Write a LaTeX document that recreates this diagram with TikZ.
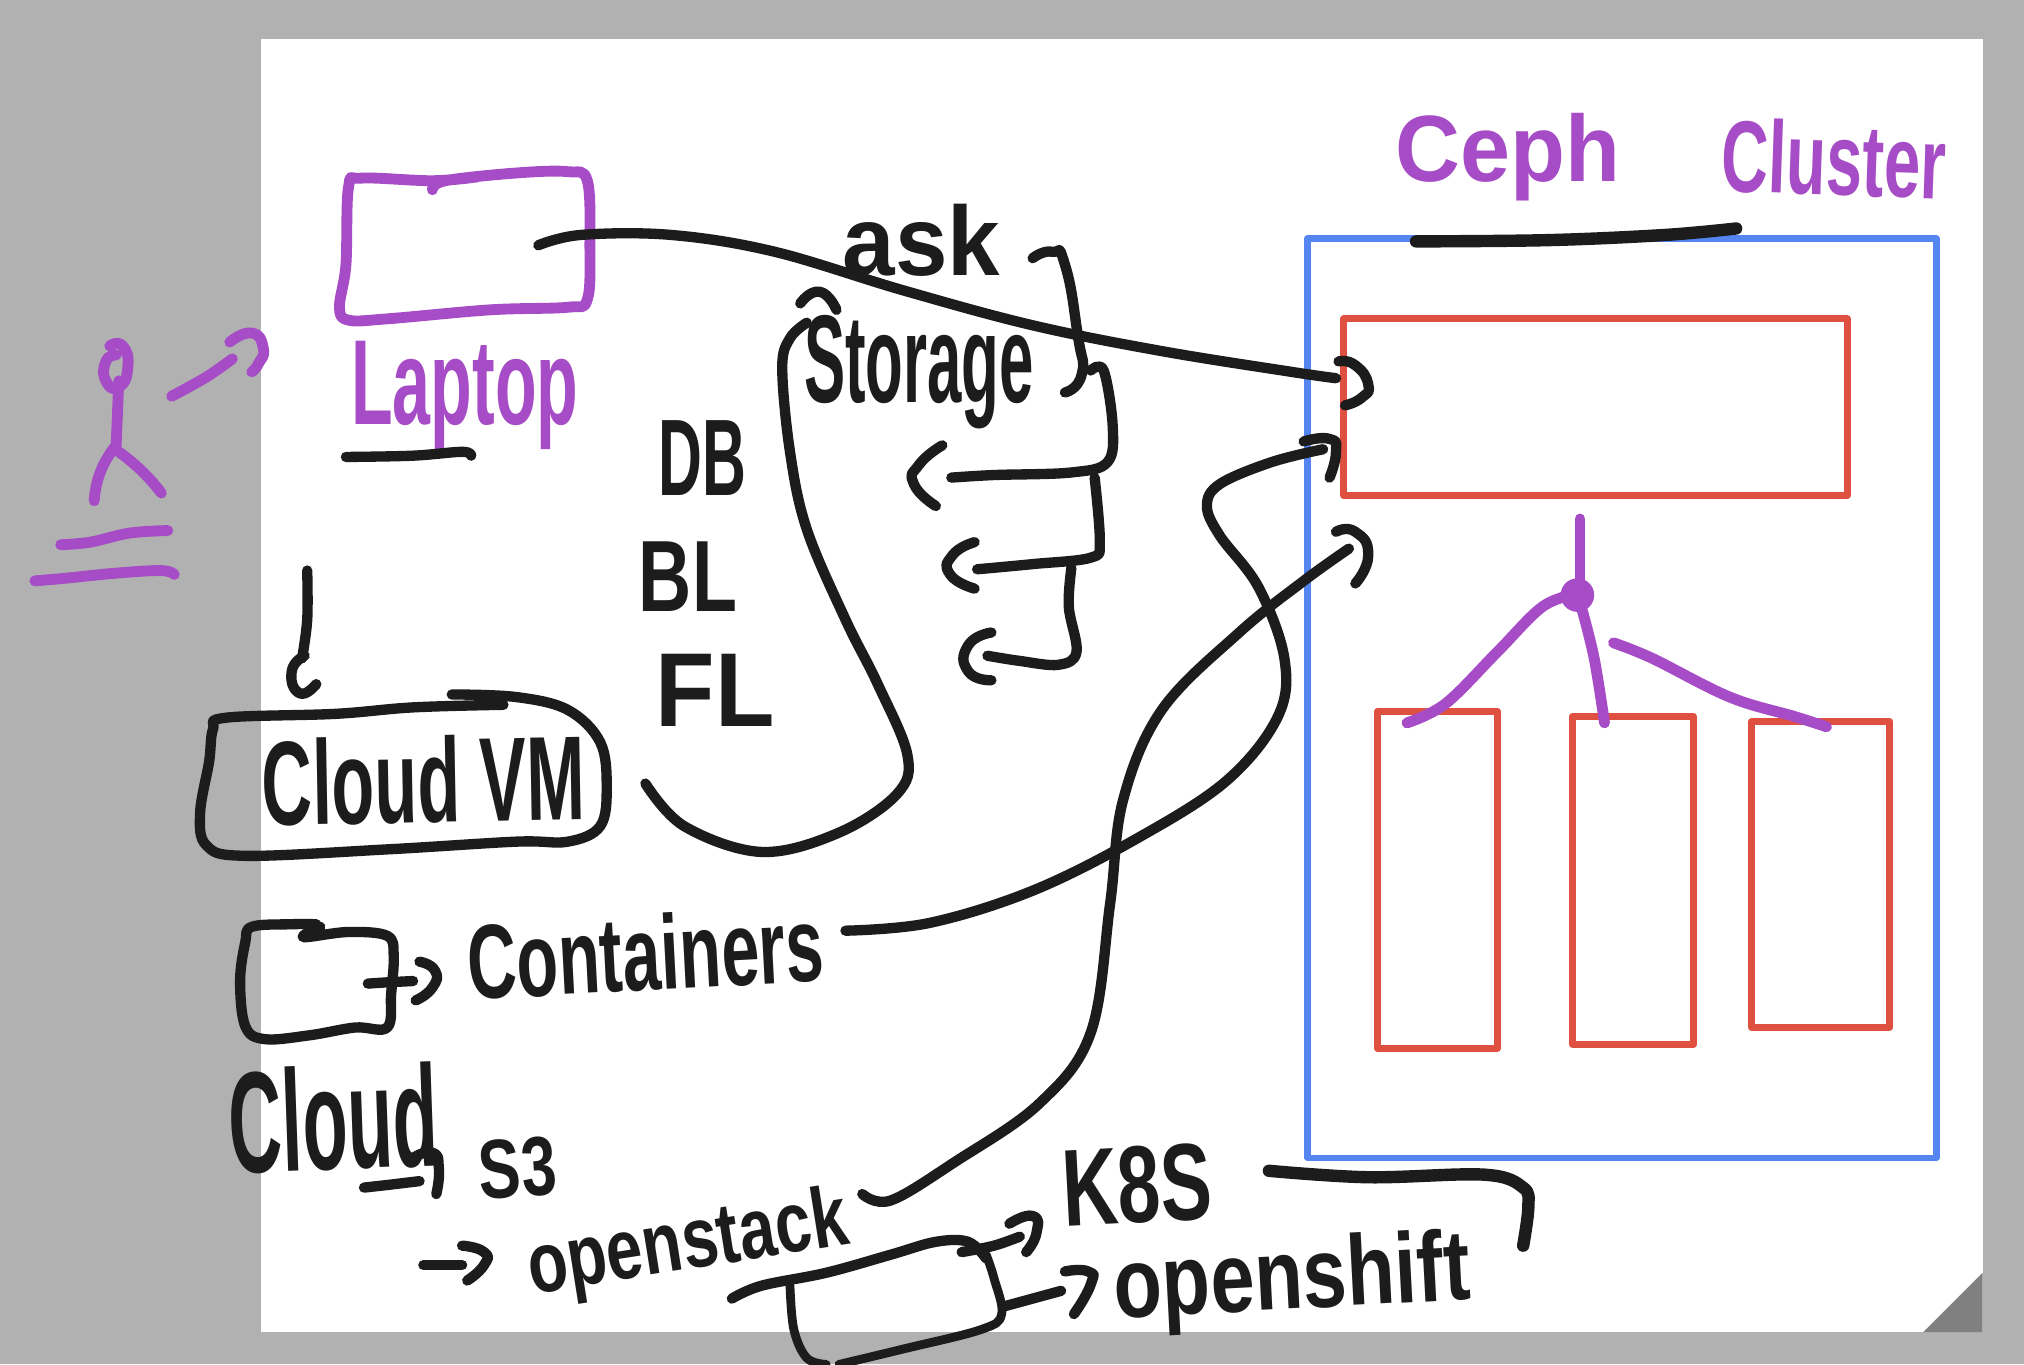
\documentclass[tikz,border=0pt]{standalone}
\usepackage{fontspec}
\setmainfont{Liberation Sans}
\usepackage{graphicx}
\newdimen\hwu \hwu=0.5pt
\newcommand\hw[3]{\resizebox*{#1\hwu}{#2\hwu}{#3}}
\definecolor{pg}{HTML}{B1B1B1}
\definecolor{fold}{HTML}{808080}
\definecolor{pur}{HTML}{A64CC6}
\definecolor{ink}{HTML}{1C1C1C}
\definecolor{blu}{HTML}{5585F0}
\definecolor{rd}{HTML}{E05040}
\tikzset{
 ks/.style={ink,line width=4pt,line cap=round,line join=round},
 kst/.style={ink,line width=3.4pt,line cap=round,line join=round},
 kb/.style={ink,line width=4.8pt,line cap=round,line join=round},
 ps/.style={pur,line width=4.2pt,line cap=round,line join=round},
 bluebox/.style={draw=blu,line width=2.6pt,rectangle,inner sep=0pt,outer sep=0pt,line join=round},
 redbox/.style={draw=rd,line width=2.6pt,rectangle,inner sep=0pt,outer sep=0pt,line join=round},
 ktext/.style={text=ink,font=\bfseries,inner sep=0pt},
 ptext/.style={text=pur,font=\bfseries,inner sep=0pt}
}
\newcommand\sk[2]{\draw[#1] plot[smooth,tension=0.6] coordinates {#2};}
\newcommand\skh[2]{\draw[#1] plot[smooth,tension=1] coordinates {#2};}
\begin{document}
\begin{tikzpicture}[x=0.5pt,y=-0.5pt]
\useasboundingbox (0,0) rectangle (1568,1056.7);
\fill[pg] (0,0) rectangle (1568,1056.7);
\fill[white] (202,30) rectangle (1536,1032);
\fill[fold] (1490,1032) -- (1536,986) -- (1536,1032) -- cycle;

% boxes
\node[bluebox,minimum width=487\hwu,minimum height=712\hwu] (cluster) at (1256.5,541) {};
\node[redbox,minimum width=390\hwu,minimum height=137\hwu] (mon) at (1236,315.5) {};
\node[redbox,minimum width=93\hwu,minimum height=261\hwu] (osda) at (1113.5,681.5) {};
\node[redbox,minimum width=94\hwu,minimum height=254\hwu] (osdb) at (1265,682) {};
\node[redbox,minimum width=107\hwu,minimum height=237\hwu] (osdc) at (1410.5,677.5) {};

% purple texts
\node[ptext] (ceph) at (1168,122) {\hw{174}{68}{Ceph}};
\node[ptext,rotate=-2] (clus) at (1421,123) {\hw{174}{58}{Cluster}};
\node[ptext] (lap) at (360,306) {\hw{176}{84}{Laptop}};

% black texts
\node[ktext] (ask) at (714,186) {\hw{122}{56}{ask}};
\node[ktext] (sto) at (712,288) {\hw{178}{88}{Storage}};
\node[ktext] (db) at (544,355) {\hw{68}{58}{DB}};
\node[ktext] (bl) at (533,447) {\hw{76}{54}{BL}};
\node[ktext] (fl) at (554,535) {\hw{92}{56}{FL}};
\node[ktext,rotate=1] (vm) at (328,604) {\hw{250}{68}{Cloud VM}};
\node[ktext,rotate=3] (cont) at (500,738) {\hw{276}{60}{Containers}};
\node[ktext,rotate=2] (cloud) at (258,866) {\hw{162}{82}{Cloud}};
\node[ktext,rotate=4] (s3) at (401,905) {\hw{60}{46}{S3}};
\node[ktext,rotate=9] (ost) at (533,966) {\hw{250}{62}{openstack}};
\node[ktext,rotate=3] (k8s) at (881,918) {\hw{116}{60}{K8S}};
\node[ktext,rotate=3] (osh) at (1001,994) {\hw{276}{72}{openshift}};

% purple strokes
\sk{ps}{(335,147)(345,140)(400,134)(440,133)(455,140)(457,190)(455,232)(440,238)(380,240)(300,247)(270,248)(263,238)(268,205)(270,145)(280,138)(335,140)(370,137)}
\skh{ps}{(85,268)(95,268)(99,285)(92,300)(82,295)(82,280)(90,275)}
\sk{ps}{(92,295)(91,320)(90,345)}
\skh{ps}{(90,345)(78,365)(73,388)}
\skh{ps}{(92,350)(110,365)(125,382)}
\sk{ps}{(133,307)(160,292)(180,278)}
\skh{ps}{(178,265)(195,258)(204,270)(200,282)(195,288)}
\sk{ps}{(47,422)(70,420)(100,413)(130,411)}
\sk{ps}{(27,450)(50,448)(90,444)(125,442)(135,445)}
\sk{ps}{(1224,402)(1224,435)(1224,470)}
\fill[pur] (1222,461) circle (13);
\sk{ps}{(1222,460)(1195,470)(1160,505)(1120,545)(1090,560)}
\sk{ps}{(1225,470)(1235,510)(1243,560)}
\sk{ps}{(1250,498)(1280,510)(1340,540)(1390,555)(1415,563)}

% black strokes
\sk{ks}{(268,354)(320,353)(358,350)(365,353)}
\sk{ks}{(238,442)(238,480)(234,510)}
\skh{ks}{(236,508)(226,520)(232,537)(245,530)}
\sk{ks}{(350,538)(400,540)(440,550)(465,575)(470,610)(465,640)(440,652)(400,652)(300,658)(190,663)(160,655)(155,630)(162,590)(165,565)(175,556)(260,553)(320,548)(390,546)}
\sk{ks}{(245,716)(225,716)(195,718)(190,730)(186,760)(190,795)(205,805)(240,802)(275,796)(300,796)(303,770)(305,740)(300,725)(270,722)(235,726)(248,718)}
\sk{ks}{(285,762)(300,761)(320,760)}
\skh{ks}{(325,745)(337,752)(335,765)(322,775)}
\sk{ks}{(655,721)(720,715)(800,690)(880,650)(950,605)(990,555)(995,510)(975,455)(945,415)(935,392)(945,375)(985,358)(1025,348)}
\skh{ks}{(1010,342)(1030,340)(1035,350)(1030,370)}
\sk{ks}{(668,925)(690,930)(740,900)(805,855)(845,800)(860,700)(870,620)(900,550)(960,490)(1010,450)(1045,425)}
\skh{ks}{(1035,412)(1050,412)(1060,430)(1050,452)}
\sk{ks}{(417,190)(450,182)(520,182)(600,195)(700,225)(800,252)(900,272)(1000,288)(1035,293)}
\skh{ks}{(1037,280)(1050,283)(1060,298)(1055,308)(1042,314)}
\skh{ks}{(800,200)(815,195)(825,205)(835,260)(838,290)(825,304)}
\sk{ks}{(845,287)(855,287)(862,330)(858,358)(830,366)(770,368)(737,370)}
\skh{ks}{(730,345)(712,360)(708,375)(725,392)}
\sk{ks}{(848,370)(852,420)(845,432)(800,437)(757,441)}
\skh{ks}{(755,420)(738,430)(736,445)(755,456)}
\sk{ks}{(830,440)(828,470)(834,505)(820,515)(790,512)(765,508)}
\skh{ks}{(768,490)(750,500)(750,520)(768,527)}
\skh{ks}{(620,235)(635,226)(648,240)}
\sk{ks}{(625,250)(612,262)(606,285)(612,350)(625,410)(655,480)(680,530)(703,585)(695,615)(650,645)(590,660)(530,640)(500,607)}
\sk{kb}{(1097,187)(1200,186)(1290,182)(1345,177)}
\sk{kb}{(983,907)(1060,912)(1150,910)(1180,920)(1184,935)(1180,965)}
\sk{ks}{(282,920)(300,918)(325,915)}
\skh{ks}{(320,897)(335,893)(340,905)(338,925)}
\sk{ks}{(328,980)(345,980)(358,980)}
\skh{ks}{(358,965)(375,970)(375,980)(362,992)}
\sk{ks}{(567,1006)(590,996)(640,986)(690,972)(725,962)(750,962)(764,975)}
\sk{kst}{(764,972)(770,990)(776,1018)(760,1030)(700,1045)(650,1057)}
\sk{kst}{(612,996)(615,1030)(625,1052)(640,1057)}
\sk{ks}{(745,970)(770,965)(790,958)}
\skh{ks}{(782,948)(800,942)(803,955)(795,970)}
\sk{ks}{(778,1012)(800,1006)(822,1000)}
\skh{ks}{(825,985)(843,985)(845,995)(832,1018)}
\end{tikzpicture}
\end{document}
